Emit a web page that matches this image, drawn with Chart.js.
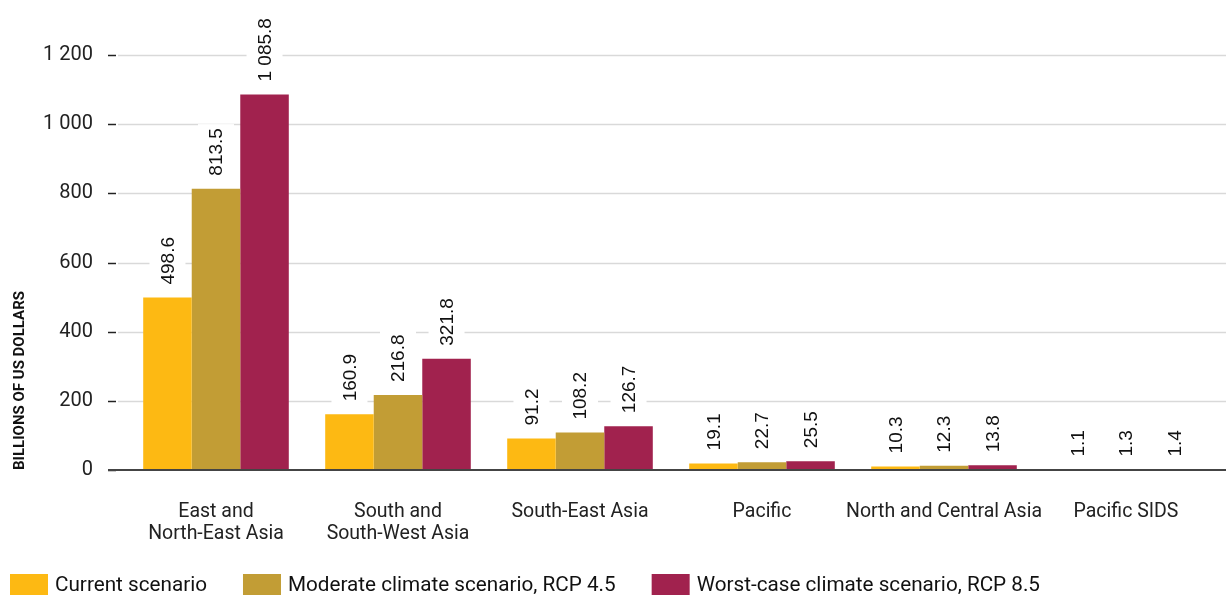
<!DOCTYPE html>
<html>
<head>
<meta charset="utf-8">
<script src="https://cdn.jsdelivr.net/npm/chart.js@4.4.1/dist/chart.umd.min.js"></script>
<style>
  html, body { margin: 0; padding: 0; background: #ffffff; }
  #wrap { position: relative; width: 1226px; height: 595px; }
</style>
</head>
<body>
<div id="wrap"><canvas id="chart"></canvas></div>
<script>
// Regions (multi-line where the label wraps)
const regions = [
  ['East and', 'North-East Asia'],
  ['South and', 'South-West Asia'],
  'South-East Asia',
  'Pacific',
  'North and Central Asia',
  'Pacific SIDS'
];

// Annual losses, billions of US dollars
const currentScenario = [498.6, 160.9, 91.2, 19.1, 10.3, 1.1];
const moderateRcp45   = [813.5, 216.8, 108.2, 22.7, 12.3, 1.3];
const worstRcp85      = [1085.8, 321.8, 126.7, 25.5, 13.8, 1.4];

const seriesNames  = ['Current scenario', 'Moderate climate scenario, RCP 4.5', 'Worst-case climate scenario, RCP 8.5'];
const seriesColors = ['#FDB913', '#C29D35', '#A1224E'];

const yTicks = [0, 200, 400, 600, 800, 1000, 1200];

// "1085.8" -> "1 085.8" (space as thousands separator)
function fmt(v, decimals) {
  const s = decimals == null ? String(v) : v.toFixed(decimals);
  const [i, d] = s.split('.');
  const withSpaces = i.replace(/\B(?=(\d{3})+(?!\d))/g, ' ');
  return d ? withSpaces + '.' + d : withSpaces;
}

const LABEL_FONT = '19px "Liberation Sans", Arial, sans-serif';

// Gridlines, tick marks, baseline and rotated value labels
const decorPlugin = {
  id: 'decor',
  beforeDatasetsDraw(chart) {
    const { ctx, chartArea, scales: { y } } = chart;
    const W = chart.width;
    ctx.save();
    yTicks.forEach(v => {
      const py = Math.round(y.getPixelForValue(v)) + 0.5;
      if (v !== 0) {
        ctx.strokeStyle = '#d9d9d9';
        ctx.lineWidth = 1.5;
        ctx.beginPath();
        ctx.moveTo(chartArea.left - 7, py);
        ctx.lineTo(W, py);
        ctx.stroke();
      }
      ctx.strokeStyle = '#222222';
      ctx.lineWidth = 1.5;
      ctx.beginPath();
      ctx.moveTo(chartArea.left - 17, py);
      ctx.lineTo(chartArea.left - 9, py);
      ctx.stroke();
    });
    // white plates behind value labels (break the gridlines)
    ctx.font = LABEL_FONT;
    chart.data.datasets.forEach((ds, di) => {
      chart.getDatasetMeta(di).data.forEach((bar, i) => {
        const txt = fmt(ds.data[i], 1);
        const w = ctx.measureText(txt).width;
        const bottom = bar.y - 13;
        ctx.fillStyle = '#ffffff';
        ctx.fillRect(bar.x - 18, bottom - w - 4, 36, w + 8);
      });
    });
    ctx.restore();
  },
  afterDatasetsDraw(chart) {
    const { ctx, chartArea, scales: { y } } = chart;
    const W = chart.width;
    ctx.save();
    const py0 = y.getPixelForValue(0);
    ctx.strokeStyle = '#444444';
    ctx.lineWidth = 2;
    ctx.beginPath();
    ctx.moveTo(chartArea.left - 17, py0);
    ctx.lineTo(W, py0);
    ctx.stroke();

    ctx.font = LABEL_FONT;
    ctx.fillStyle = '#111111';
    ctx.textAlign = 'left';
    ctx.textBaseline = 'middle';
    chart.data.datasets.forEach((ds, di) => {
      chart.getDatasetMeta(di).data.forEach((bar, i) => {
        const txt = fmt(ds.data[i], 1);
        ctx.save();
        ctx.translate(bar.x + 1, bar.y - 13);
        ctx.rotate(-Math.PI / 2);
        ctx.fillText(txt, 0, 0);
        ctx.restore();
      });
    });
    ctx.restore();
  }
};

// Legend row along the bottom edge
const legendRowPlugin = {
  id: 'legendRow',
  afterDraw(chart) {
    const { ctx } = chart;
    ctx.save();
    ctx.font = '20.7px Roboto, sans-serif';
    ctx.textBaseline = 'middle';
    ctx.textAlign = 'left';
    let x = 10;
    const top = 574, boxW = 38, boxH = 21;
    chart.data.datasets.forEach(ds => {
      ctx.fillStyle = ds.backgroundColor;
      ctx.fillRect(x, top, boxW, boxH);
      ctx.fillStyle = '#111111';
      const tx = x + boxW + 7;
      ctx.fillText(ds.label, tx, top + boxH / 2 + 1);
      x = tx + ctx.measureText(ds.label).width + 36;
    });
    ctx.restore();
  }
};

const datasets = [currentScenario, moderateRcp45, worstRcp85].map((data, k) => ({
  label: seriesNames[k],
  data,
  backgroundColor: seriesColors[k],
  borderWidth: 0,
  barPercentage: 1.0,
  categoryPercentage: 0.80
}));

new Chart(document.getElementById('chart'), {
  type: 'bar',
  data: { labels: regions, datasets },
  plugins: [decorPlugin, legendRowPlugin],
  options: {
    responsive: true,
    maintainAspectRatio: false,
    animation: false,
    layout: { padding: { top: 55, right: 9, bottom: 0, left: 0 } },
    plugins: {
      legend: { display: false },
      tooltip: { enabled: false }
    },
    scales: {
      x: {
        grid: { display: false, drawTicks: false, tickLength: 0 },
        border: { display: false },
        ticks: {
          autoSkip: false,
          maxRotation: 0,
          padding: 31,
          color: '#222222',
          font: { family: 'Roboto', size: 19.5, lineHeight: 1.13 }
        },
        afterFit(scale) { scale.height = 125; }
      },
      y: {
        min: 0,
        max: 1200,
        afterBuildTicks(scale) { scale.ticks = yTicks.map(v => ({ value: v })); },
        grid: { display: false, drawTicks: false, tickLength: 0 },
        border: { display: false },
        ticks: {
          padding: 32,
          color: '#222222',
          font: { family: 'Roboto', size: 20 },
          callback: v => fmt(v)
        },
        title: {
          display: true,
          text: 'BILLIONS OF US DOLLARS',
          align: 'start',
          color: '#111111',
          font: { family: 'Roboto', weight: 'bold', size: 15 },
          padding: { top: 11, bottom: 0 }
        },
        afterFit(scale) { scale.width = 125; }
      }
    }
  }
});
</script>
</body>
</html>
